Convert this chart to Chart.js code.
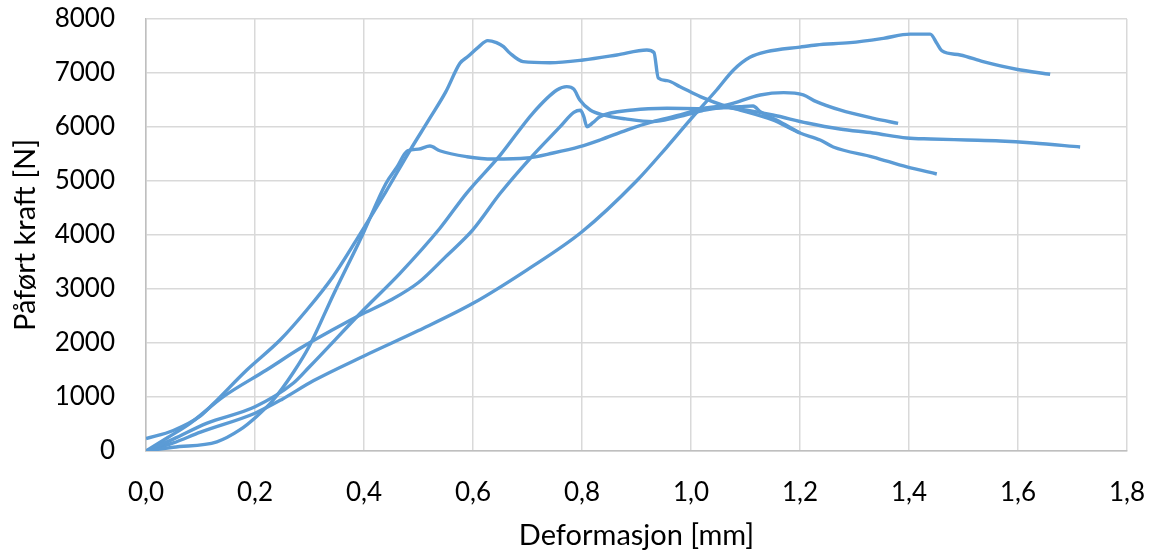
<!DOCTYPE html>
<html>
<head>
<meta charset="utf-8">
<script src="https://cdn.jsdelivr.net/npm/chart.js@4/dist/chart.umd.min.js"></script>
<style>
  html, body { margin: 0; padding: 0; background: #ffffff; }
  #wrap { width: 1150px; height: 553px; }
</style>
</head>
<body>
<div id="wrap"><canvas id="chart" width="1150" height="553"></canvas></div>
<script>
// Deformasjon [mm] / påført kraft [N] for fem prøver
const prove1Def = [0, 0.05, 0.13, 0.172, 0.203, 0.233, 0.27, 0.3, 0.344, 0.398, 0.44, 0.46, 0.48, 0.5, 0.521, 0.539, 0.589, 0.637, 0.699, 0.747, 0.796, 0.833, 0.882, 0.93, 0.98, 1.017, 1.066, 1.127, 1.17, 1.206, 1.23, 1.273, 1.335, 1.38];
const prove1Kraft = [0, 70, 170, 390, 640, 940, 1450, 1950, 2900, 4020, 4950, 5250, 5560, 5590, 5648, 5560, 5450, 5407, 5426, 5518, 5636, 5759, 5944, 6099, 6222, 6333, 6407, 6593, 6636, 6593, 6469, 6315, 6160, 6068];

const prove2Def = [0, 0.05, 0.1, 0.124, 0.185, 0.246, 0.295, 0.343, 0.395, 0.44, 0.484, 0.52, 0.55, 0.576, 0.59, 0.61, 0.627, 0.643, 0.656, 0.668, 0.692, 0.741, 0.802, 0.864, 0.919, 0.932, 0.94, 0.956, 0.98, 1.017, 1.066, 1.09, 1.15, 1.2, 1.237, 1.261, 1.334, 1.396, 1.451];
const prove2Kraft = [230, 380, 650, 880, 1500, 2055, 2611, 3228, 4055, 4800, 5560, 6150, 6650, 7180, 7300, 7480, 7600, 7562, 7488, 7365, 7210, 7191, 7241, 7334, 7426, 7380, 6907, 6858, 6747, 6562, 6377, 6315, 6130, 5889, 5759, 5630, 5444, 5260, 5130];

const prove3Def = [0, 0.05, 0.111, 0.2, 0.27, 0.3, 0.399, 0.466, 0.539, 0.588, 0.65, 0.71, 0.754, 0.772, 0.785, 0.796, 0.815, 0.84, 0.88, 0.93, 0.97, 1.02, 1.06, 1.09, 1.15, 1.213, 1.273, 1.334, 1.396, 1.44, 1.506, 1.567, 1.628, 1.714];
const prove3Kraft = [0, 220, 512, 820, 1254, 1560, 2611, 3290, 4120, 4772, 5480, 6259, 6685, 6747, 6700, 6500, 6315, 6220, 6150, 6100, 6170, 6300, 6360, 6330, 6222, 6074, 5963, 5889, 5796, 5778, 5759, 5741, 5704, 5630];

const prove4Def = [0, 0.04, 0.081, 0.142, 0.221, 0.283, 0.34, 0.393, 0.45, 0.5, 0.55, 0.6, 0.65, 0.705, 0.76, 0.785, 0.797, 0.803, 0.809, 0.82, 0.833, 0.894, 0.956, 1.017, 1.06, 1.09, 1.114, 1.127, 1.163, 1.2];
const prove4Kraft = [0, 250, 512, 1006, 1500, 1902, 2230, 2519, 2800, 3120, 3600, 4100, 4772, 5420, 6006, 6270, 6310, 6200, 6006, 6080, 6191, 6315, 6346, 6340, 6360, 6377, 6389, 6284, 6099, 5889];

const prove5Def = [0, 0.05, 0.1, 0.2, 0.25, 0.307, 0.4, 0.5, 0.6, 0.7, 0.8, 0.9, 0.955, 1.0, 1.047, 1.078, 1.108, 1.139, 1.2, 1.23, 1.292, 1.353, 1.402, 1.439, 1.451, 1.46, 1.494, 1.536, 1.597, 1.659];
const prove5Kraft = [0, 150, 350, 700, 960, 1300, 1760, 2230, 2735, 3360, 4060, 5000, 5620, 6150, 6685, 7056, 7290, 7395, 7480, 7519, 7562, 7642, 7720, 7720, 7550, 7414, 7334, 7210, 7069, 6976];

// Aksegrenser og tikk
const xMin = 0, xMax = 1.8, xStep = 0.2;
const yMin = 0, yMax = 8000, yStep = 1000;

const series = [
  [prove1Def, prove1Kraft],
  [prove2Def, prove2Kraft],
  [prove3Def, prove3Kraft],
  [prove4Def, prove4Kraft],
  [prove5Def, prove5Kraft]
];

const lineColor = '#5B9BD5';
const datasets = series.map(([xs, ys], i) => ({
  label: 'Prøve ' + (i + 1),
  data: xs.map((x, k) => ({ x: x, y: ys[k] })),
  showLine: true,
  borderColor: lineColor,
  backgroundColor: lineColor,
  borderWidth: 3.4,
  pointRadius: 0,
  pointHoverRadius: 0,
  cubicInterpolationMode: 'monotone',
  fill: false
}));

const fontFamily = 'Lato, "Noto Sans", sans-serif';

new Chart(document.getElementById('chart').getContext('2d'), {
  type: 'scatter',
  data: { datasets: datasets },
  options: {
    responsive: false,
    devicePixelRatio: 1,
    animation: false,
    layout: { padding: { top: 19, right: 23, left: 0, bottom: 0 } },
    plugins: {
      legend: { display: false },
      tooltip: { enabled: false }
    },
    scales: {
      x: {
        type: 'linear',
        min: xMin,
        max: xMax,
        afterFit: (s) => { s.height = 102; s.paddingLeft = 0; s.paddingRight = 0; },
        afterBuildTicks: (s) => {
          const t = [];
          for (let v = xMin; v <= xMax + 1e-9; v += xStep) t.push({ value: Math.round(v * 10) / 10 });
          s.ticks = t;
        },
        ticks: {
          callback: (v) => v.toFixed(1).replace('.', ','),
          font: { family: fontFamily, size: 26 },
          color: '#000000',
          padding: 26,
          maxRotation: 0
        },
        grid: { color: '#D9D9D9', lineWidth: 1.5, drawTicks: false },
        border: { color: '#BFBFBF', width: 1.5 },
        title: {
          display: true,
          text: 'Deformasjon [mm]',
          font: { family: fontFamily, size: 29 },
          color: '#000000',
          padding: { top: 0, bottom: 0 }
        }
      },
      y: {
        type: 'linear',
        min: yMin,
        max: yMax,
        afterFit: (s) => { s.width = 146; s.paddingTop = 0; s.paddingBottom = 0; },
        ticks: {
          stepSize: yStep,
          callback: (v) => String(v),
          font: { family: fontFamily, size: 26 },
          color: '#000000',
          padding: 31
        },
        grid: { color: '#D9D9D9', lineWidth: 1.5, drawTicks: false },
        border: { color: '#BFBFBF', width: 1.5 },
        title: {
          display: true,
          text: 'Påført kraft [N]',
          font: { family: fontFamily, size: 29 },
          color: '#000000',
          padding: { top: 8, bottom: 0 }
        }
      }
    }
  }
});
</script>
</body>
</html>
